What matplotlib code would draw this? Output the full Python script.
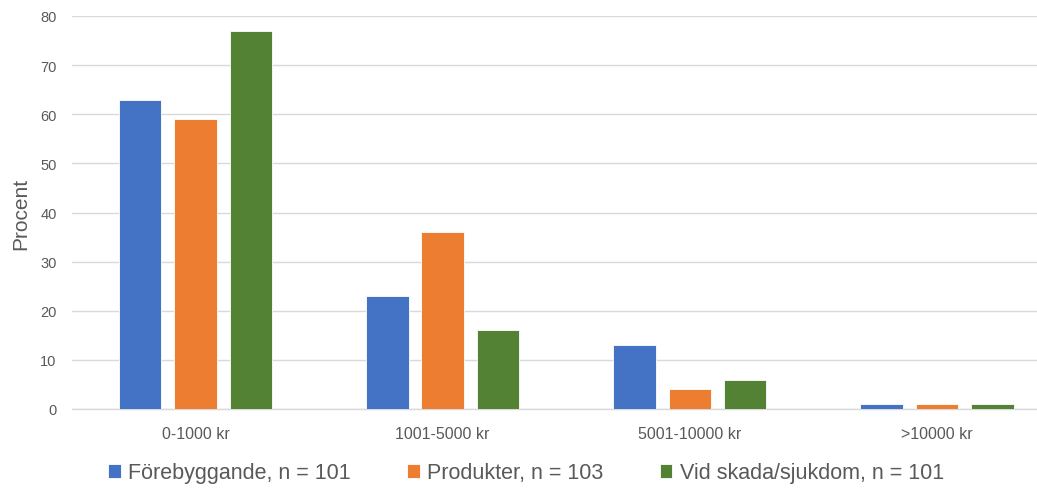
import matplotlib
matplotlib.use("Agg")
import matplotlib.pyplot as plt
import numpy as np

categories = ["0-1000 kr", "1001-5000 kr", "5001-10000 kr", ">10000 kr"]
series_names = ["Förebyggande, n = 101", "Produkter, n = 103", "Vid skada/sjukdom, n = 101"]
forebyggande = [63, 23, 13, 1]
produkter = [59, 36, 4, 1]
vid_skada = [77, 16, 6, 1]
yticks = [0, 10, 20, 30, 40, 50, 60, 70, 80]

colors = ["#4472C4", "#ED7D31", "#548235"]
plt.rcParams['font.family'] = ['Liberation Sans', 'DejaVu Sans']

W, H = 1037, 489
fig = plt.figure(figsize=(W / 100, H / 100), dpi=100)
ax = fig.add_axes([72 / W, (H - 410) / H, (1037 - 72) / W, 393 / H])

x = np.arange(len(categories))
bw = 0.172
off = 0.224
for i, (vals, name) in enumerate(zip([forebyggande, produkter, vid_skada], series_names)):
    ax.bar(x + (i - 1) * off, vals, bw, color=colors[i], label=name,
           edgecolor="#FFFFFF", linewidth=0.6, zorder=3)

ax.set_xlim(-0.4996, 3.405)
ax.set_ylim(0, 80)
ax.set_yticks(yticks)
ax.set_xticks(x)
ax.set_xticklabels(categories)
ax.grid(axis="y", color="#D9D9D9", linewidth=1.0, zorder=0)
for s in ["top", "right", "left"]:
    ax.spines[s].set_visible(False)
ax.spines["bottom"].set_color("#D9D9D9")
ax.spines["bottom"].set_linewidth(1.0)
ax.tick_params(axis="both", length=0, colors="#595959")
ax.tick_params(axis="y", pad=11, labelsize=10.5)
ax.tick_params(axis="x", pad=12, labelsize=11.5)
ax.set_ylabel("Procent", fontsize=15, color="#595959")
ax.yaxis.set_label_coords(-(72 - 30) / (1037 - 72), 0.5)

leg = fig.legend(loc="center", bbox_to_anchor=(526 / W, (H - 474) / H), ncol=3,
                 frameon=False, fontsize=15.5, handlelength=0.6, handleheight=0.6,
                 handletextpad=0.35, columnspacing=2.6, labelcolor="#595959")

fig.savefig("out.png", dpi=100)
